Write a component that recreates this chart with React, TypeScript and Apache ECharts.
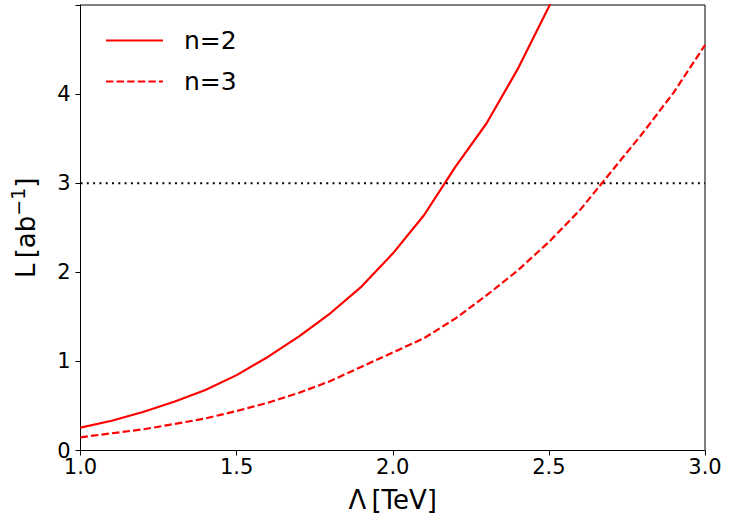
import React, { useEffect, useRef } from "react";
import * as echarts from "echarts";

const lambdaValues = [1.0, 1.1, 1.2, 1.3, 1.4, 1.5, 1.6, 1.7, 1.8, 1.9, 2.0, 2.1, 2.2, 2.3, 2.4, 2.5, 2.6, 2.7, 2.8, 2.9, 3.0];
const lumN2 = [0.256, 0.334, 0.432, 0.547, 0.678, 0.846, 1.05, 1.28, 1.54, 1.84, 2.21, 2.64, 3.18, 3.67, 4.28, 4.98, 5.75];
const lumN3 = [0.148, 0.193, 0.237, 0.297, 0.36, 0.443, 0.536, 0.648, 0.779, 0.94, 1.1, 1.26, 1.48, 1.74, 2.02, 2.34, 2.7, 3.13, 3.56, 4.02, 4.55];
const refLevel = 3;
const seriesNames = ["n=2", "n=3"];
const xTicks = [1.0, 1.5, 2.0, 2.5, 3.0];
const yTicks = [0, 1, 2, 3, 4];

const FONT = "DejaVu Sans";

export default function App() {
  const ref = useRef<HTMLDivElement>(null);
  useEffect(() => {
    if (!ref.current) return;
    const chart = echarts.init(ref.current, null, { renderer: "svg" });
    const pairs = (vals: number[]) => vals.map((v, i) => [lambdaValues[i], v]);
    chart.setOption({
      animation: false,
      textStyle: { fontFamily: FONT },
      grid: {
        left: 80.5,
        right: 29,
        top: 5,
        bottom: 68.5,
        show: true,
        borderColor: "#000",
        borderWidth: 1,
        backgroundColor: "transparent",
      },
      legend: {
        data: seriesNames,
        orient: "vertical",
        left: 100,
        top: 23,
        itemWidth: 57,
        itemHeight: 14,
        itemGap: 16,
        itemStyle: { opacity: 0 },
        textStyle: { fontSize: 25, color: "#000", fontFamily: FONT, padding: [0, 0, 0, 16] },
      },
      xAxis: {
        type: "value",
        min: 1.0,
        max: 3.0,
        interval: 0.5,
        name: "Λ\u2009[TeV]",
        nameLocation: "middle",
        nameGap: 36,
        nameTextStyle: { fontSize: 26, color: "#000", fontFamily: FONT },
        axisLine: { show: true, onZero: false, lineStyle: { color: "#000", width: 1 } },
        axisTick: { show: true, inside: false, length: 5, lineStyle: { color: "#000", width: 1 } },
        axisLabel: {
          fontSize: 21,
          color: "#000",
          margin: 6,
          fontFamily: FONT,
          formatter: (v: number) => (xTicks.includes(v) ? v.toFixed(1) : ""),
        },
        splitLine: { show: false },
      },
      yAxis: {
        type: "value",
        min: 0,
        max: 5,
        interval: 1,
        name: "L\u2009[ab{sup|−1}]",
        nameLocation: "middle",
        nameGap: 38,
        nameRotate: 90,
        nameTextStyle: {
          fontSize: 26,
          color: "#000",
          fontFamily: FONT,
          rich: {
            sup: { fontSize: 19, color: "#000", fontFamily: FONT, padding: [0, 0, 15, 0] },
          },
        },
        axisLine: { show: true, onZero: false, lineStyle: { color: "#000", width: 1 } },
        axisTick: { show: true, inside: false, length: 5, lineStyle: { color: "#000", width: 1 } },
        axisLabel: {
          fontSize: 21,
          color: "#000",
          margin: 10,
          fontFamily: FONT,
          formatter: (v: number) => (yTicks.includes(v) ? String(v) : ""),
        },
        splitLine: { show: false },
      },
      series: [
        {
          name: seriesNames[0],
          type: "line",
          data: pairs(lumN2),
          showSymbol: false,
          symbol: "none",
          clip: true,
          lineStyle: { color: "#ff0000", width: 2.2, type: "solid" },
          itemStyle: { color: "#ff0000" },
        },
        {
          name: seriesNames[1],
          type: "line",
          data: pairs(lumN3),
          showSymbol: false,
          symbol: "none",
          clip: true,
          lineStyle: { color: "#ff0000", width: 2.2, type: [7.4, 3.2] },
          itemStyle: { color: "#ff0000" },
        },
        {
          name: "ref",
          type: "line",
          data: [
            [lambdaValues[0], refLevel],
            [lambdaValues[lambdaValues.length - 1], refLevel],
          ],
          showSymbol: false,
          symbol: "none",
          silent: true,
          lineStyle: { color: "#000", width: 2, type: [2, 4.3] },
          itemStyle: { color: "#000" },
        },
      ],
    });
    return () => chart.dispose();
  }, []);
  return <div ref={ref} style={{ width: 734, height: 519, position: "absolute", left: 0, top: 0 }} />;
}
